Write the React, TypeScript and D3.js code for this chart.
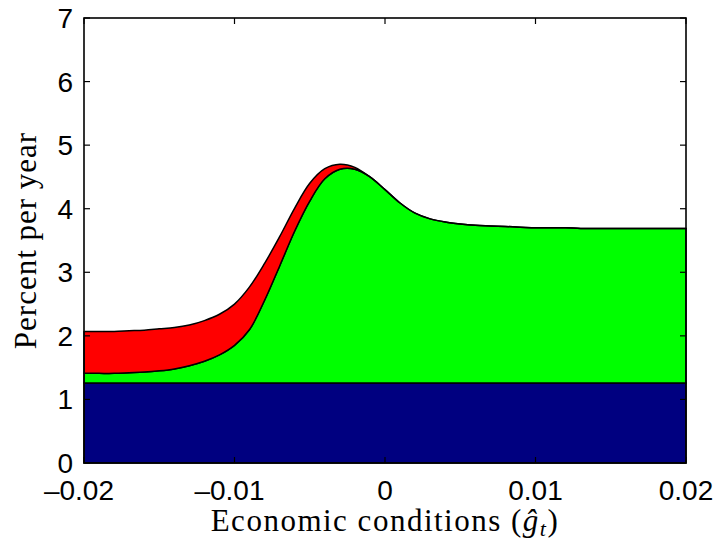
import React from "react";
import * as d3 from "d3";

// Economic conditions grid (ĝ_t)
const gHat = [
  -0.02, -0.019, -0.018, -0.017, -0.016, -0.015, -0.014, -0.013, -0.012, -0.011,
  -0.01, -0.009, -0.008, -0.007, -0.006, -0.005, -0.004, -0.003, -0.002, -0.001,
  0, 0.001, 0.002, 0.003, 0.004, 0.005, 0.006, 0.007, 0.008, 0.009,
  0.01, 0.011, 0.012, 0.013, 0.014, 0.015, 0.016, 0.017, 0.018, 0.019, 0.02,
];

// Bottom (blue) layer: constant level
const baseLevel = 1.26;

// Top of the green layer
const greenTop = [
  1.41, 1.41, 1.41, 1.42, 1.43, 1.45, 1.48, 1.53, 1.6, 1.7,
  1.85, 2.1, 2.56, 3.1, 3.65, 4.12, 4.47, 4.62, 4.62, 4.5,
  4.3, 4.09, 3.93, 3.84, 3.79, 3.76, 3.74, 3.73, 3.72, 3.71,
  3.7, 3.7, 3.7, 3.69, 3.69, 3.69, 3.69, 3.69, 3.69, 3.69, 3.69,
];

// Top of the red layer
const redTop = [
  2.07, 2.07, 2.07, 2.08, 2.09, 2.11, 2.13, 2.17, 2.24, 2.34,
  2.5, 2.77, 3.14, 3.56, 4.01, 4.4, 4.63, 4.7, 4.65, 4.5,
  4.3, 4.09, 3.93, 3.84, 3.79, 3.76, 3.74, 3.73, 3.72, 3.71,
  3.7, 3.7, 3.7, 3.69, 3.69, 3.69, 3.69, 3.69, 3.69, 3.69, 3.69,
];

const xTicks = [-0.02, -0.01, 0, 0.01, 0.02];
const xTickLabels = ["–0.02", "–0.01", "0", "0.01", "0.02"];
const yTicks = [0, 1, 2, 3, 4, 5, 6, 7];

type Row = { g: number; base: number; green: number; red: number };

export default function App() {
  const W = 723;
  const H = 550;
  const left = 84;
  const right = 686;
  const top = 18;
  const bottom = 463;

  const x = d3.scaleLinear().domain([-0.02, 0.02]).range([left, right]);
  const y = d3.scaleLinear().domain([0, 7]).range([bottom, top]);

  const rows: Row[] = gHat.map((g, i) => ({
    g,
    base: baseLevel,
    green: greenTop[i],
    red: redTop[i],
  }));

  const band = (lo: (d: Row) => number, hi: (d: Row) => number) =>
    d3
      .area<Row>()
      .x((d) => x(d.g))
      .y0((d) => y(lo(d)))
      .y1((d) => y(hi(d)))
      .curve(d3.curveCatmullRom.alpha(0.5))(rows) || "";

  const bluePath = band(() => 0, (d) => d.base);
  const greenPath = band((d) => d.base, (d) => d.green);
  const redPath = band((d) => d.green, (d) => d.red);

  const tickFont = "'Liberation Sans', Arial, Helvetica, sans-serif";
  const labelFont = "'Liberation Serif', 'Times New Roman', serif";
  const tickLen = 6;
  const fs = 28;
  const halfNum = 27;

  return (
    <svg
      width={W}
      height={H}
      style={{ position: "absolute", left: 0, top: 0, background: "#fff" }}
    >
      <path d={bluePath} fill="#000080" stroke="#000" strokeWidth={1.5} />
      <path d={greenPath} fill="#00ff00" stroke="#000" strokeWidth={1.5} />
      <path d={redPath} fill="#ff0000" stroke="#000" strokeWidth={1.5} strokeLinejoin="round" />

      {/* axes box */}
      <rect
        x={left}
        y={top}
        width={right - left}
        height={bottom - top}
        fill="none"
        stroke="#000"
        strokeWidth={1.6}
      />

      {/* y ticks on both sides */}
      {yTicks.map((t) => (
        <g key={"y" + t}>
          <line x1={left} x2={left + tickLen} y1={y(t)} y2={y(t)} stroke="#000" strokeWidth={1.2} />
          <line x1={right} x2={right - tickLen} y1={y(t)} y2={y(t)} stroke="#000" strokeWidth={1.2} />
          <text
            x={73}
            y={y(t) + 10}
            textAnchor="end"
            fontFamily={tickFont}
            fontSize={fs}
            fill="#000"
          >
            {t}
          </text>
        </g>
      ))}

      {/* x ticks on both sides */}
      {xTicks.map((t, i) => (
        <g key={"x" + t}>
          <line x1={x(t)} x2={x(t)} y1={bottom} y2={bottom - tickLen} stroke="#000" strokeWidth={1.2} />
          <line x1={x(t)} x2={x(t)} y1={top} y2={top + tickLen} stroke="#000" strokeWidth={1.2} />
          <text
            x={t < 0 ? x(t) + halfNum + 3 : x(t)}
            y={500}
            textAnchor={t < 0 ? "end" : "middle"}
            fontFamily={tickFont}
            fontSize={fs}
            fill="#000"
          >
            {xTickLabels[i]}
          </text>
        </g>
      ))}

      {/* axis titles */}
      <text
        x={(left + right) / 2}
        y={531}
        textAnchor="middle"
        fontFamily={labelFont}
        fontSize={31}
        letterSpacing={1.5}
        fill="#000"
      >
        Economic conditions (
        <tspan fontStyle="italic">ĝ</tspan>
        <tspan fontStyle="italic" fontSize={22} dy={5}>t</tspan>
        <tspan dy={-5}>)</tspan>
      </text>
      <text
        transform={`translate(36, ${(top + bottom) / 2}) rotate(-90)`}
        textAnchor="middle"
        fontFamily={labelFont}
        fontSize={31}
        letterSpacing={1}
        fill="#000"
      >
        Percent per year
      </text>
    </svg>
  );
}
